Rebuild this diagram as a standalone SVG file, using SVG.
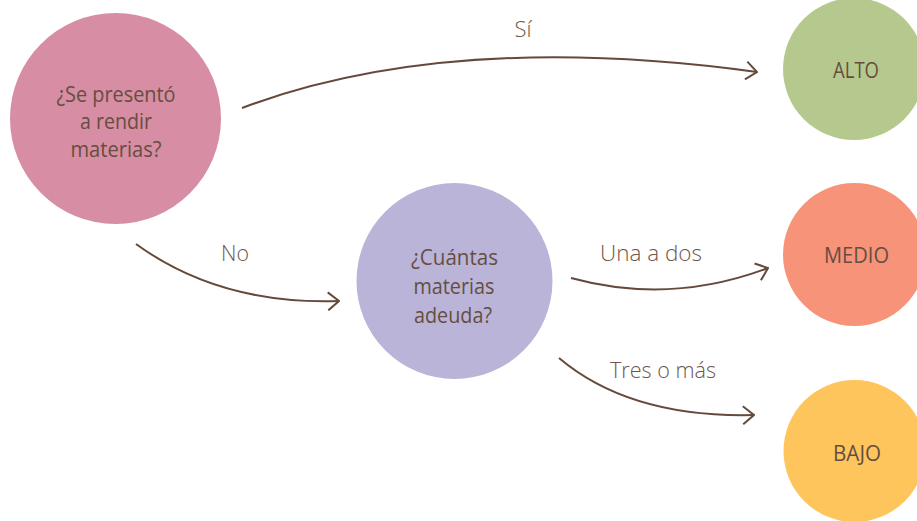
<svg xmlns="http://www.w3.org/2000/svg" width="917" height="521" viewBox="0 0 917 521">
<defs>
<style>
.node text{font-family:"Open Sans","Noto Sans",sans-serif;font-size:22px;fill:#654e41;text-anchor:middle}
.lbl{font-family:"Open Sans","Noto Sans",sans-serif;font-size:22px;font-weight:300;fill:#6e5649;text-anchor:middle}
.edge{fill:none;stroke:#654a3b;stroke-width:2;marker-end:url(#arr)}
</style>
<marker id="arr" viewBox="0 0 14 20" refX="13" refY="10" markerWidth="14" markerHeight="20" markerUnits="userSpaceOnUse" orient="auto">
<path d="M2,1 L13,10 L2,19" fill="none" stroke="#654a3b" stroke-width="2"/>
</marker>
</defs>
<rect width="917" height="521" fill="#ffffff"/>
<g id="connectors">
<path class="edge" d="M242,108 Q450,30 757,72"/>
<path class="edge" d="M136,244 Q220,305 339,301"/>
<path class="edge" d="M571,278 Q670,305 768,268"/>
<path class="edge" d="M559,358 Q630,418 754,415"/>
<text class="lbl" x="523" y="37">Sí</text>
<text class="lbl" x="235" y="261" textLength="28" lengthAdjust="spacingAndGlyphs">No</text>
<text class="lbl" x="651" y="261" textLength="102" lengthAdjust="spacingAndGlyphs">Una a dos</text>
<text class="lbl" x="663" y="378" textLength="106" lengthAdjust="spacingAndGlyphs">Tres o más</text>
</g>
<g id="node-q1" class="node">
<circle cx="115.5" cy="118.5" r="105.5" fill="#d78da3"/>
<text x="116" y="102" textLength="119" lengthAdjust="spacingAndGlyphs">¿Se presentó</text>
<text x="116" y="129" textLength="72" lengthAdjust="spacingAndGlyphs">a rendir</text>
<text x="116" y="157" textLength="91" lengthAdjust="spacingAndGlyphs">materias?</text>
</g>
<g id="node-q2" class="node">
<circle cx="454.5" cy="281" r="98" fill="#bab4d9"/>
<text x="454.5" y="265" textLength="87" lengthAdjust="spacingAndGlyphs">¿Cuántas</text>
<text x="454" y="294" textLength="81" lengthAdjust="spacingAndGlyphs">materias</text>
<text x="453" y="323" textLength="78" lengthAdjust="spacingAndGlyphs">adeuda?</text>
</g>
<g id="node-alto" class="node">
<circle cx="854" cy="69" r="71" fill="#b5c98e"/>
<text x="856" y="78" textLength="46" lengthAdjust="spacingAndGlyphs">ALTO</text>
</g>
<g id="node-medio" class="node">
<circle cx="854.5" cy="254.5" r="71.5" fill="#f69378"/>
<text x="856.5" y="263" textLength="65" lengthAdjust="spacingAndGlyphs">MEDIO</text>
</g>
<g id="node-bajo" class="node">
<circle cx="854.5" cy="451" r="71" fill="#fec55d"/>
<text x="857" y="461" textLength="48" lengthAdjust="spacingAndGlyphs">BAJO</text>
</g>
</svg>
